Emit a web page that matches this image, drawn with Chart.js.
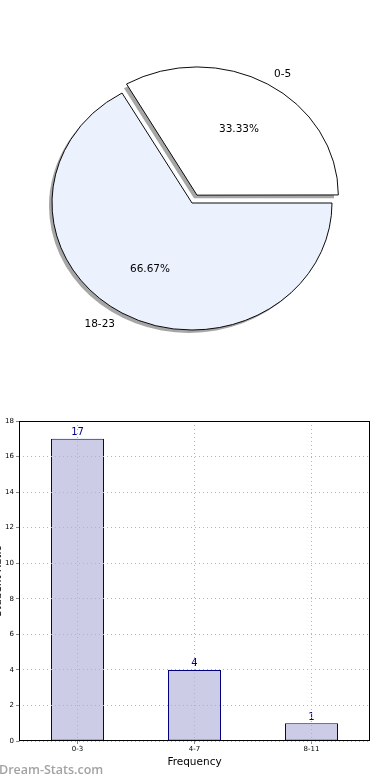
<!DOCTYPE html>
<html>
<head>
<meta charset="utf-8">
<script src="https://cdn.jsdelivr.net/npm/chart.js@4.4.1/dist/chart.umd.min.js"></script>
<style>
body { margin: 0; background: #fff; width: 390px; height: 780px; overflow: hidden; position: relative; }
canvas { position: absolute; left: 0; }
#pie { top: 0; }
#bars { top: 390px; }
#mark { position: absolute; left: -1px; top: 761px; font: 600 12.5px "Open Sans", sans-serif; color: #a3a3a3; }
</style>
</head>
<body>
<canvas id="pie" width="390" height="390"></canvas>
<canvas id="bars" width="390" height="390"></canvas>
<div id="mark">Dream-Stats.com</div>
<script>
// pie: age groups (counts -> percentages)
const pieLabels = ["18-23", "0-5"];
const pieValues = [2, 1];
const pieColors = ["#ebf1fd", "#ffffff"];
const pieExplode = [0, 40];

// bars: frequency histogram
const barLabels = ["0-3", "4-7", "8-11"];
const barValues = [17, 4, 1];
const yMax = 18;
const yStep = 2;
const yTitle = "Student Ratio";
const xTitle = "Frequency";

const FONT = '"DejaVu Sans", sans-serif';
const SY = 127 / 140; // squash the pie into an ellipse like the original

// pie is drawn squashed, with a gray drop shadow and matplotlib-style labels
const ellipsePie = {
    id: 'ellipsePie',
    beforeDatasetsDraw(chart) {
        const ctx = chart.ctx;
        const arcs = chart.getDatasetMeta(0).data;
        const cy = arcs[0].y;
        ctx.save();
        ctx.translate(0, cy);
        ctx.scale(1, SY);
        ctx.translate(0, -cy);
        ctx.fillStyle = 'rgba(77,77,77,0.5)';
        arcs.forEach(a => {
            const mid = (a.startAngle + a.endAngle) / 2;
            const off = (a.options.offset || 0) / 4;
            const x = a.x + Math.cos(mid) * off - 3;
            const y = a.y + Math.sin(mid) * off + 3 / SY;
            ctx.beginPath();
            ctx.moveTo(x, y);
            ctx.arc(x, y, a.outerRadius, a.startAngle, a.endAngle);
            ctx.closePath();
            ctx.fill();
        });
    },
    afterDatasetsDraw(chart) {
        const ctx = chart.ctx;
        ctx.restore();
        const arcs = chart.getDatasetMeta(0).data;
        const total = pieValues.reduce((s, v) => s + v, 0);
        ctx.save();
        ctx.font = '10.5px ' + FONT;
        ctx.fillStyle = '#000';
        ctx.textBaseline = 'middle';
        arcs.forEach((a, i) => {
            const mid = (a.startAngle + a.endAngle) / 2;
            const off = (a.options.offset || 0) / 4;
            const cx = a.x + Math.cos(mid) * off;
            const cy = a.y + Math.sin(mid) * off * SY;
            const r = a.outerRadius;
            ctx.textAlign = Math.cos(mid) > 0 ? 'left' : 'right';
            ctx.fillText(pieLabels[i], cx + 1.1 * r * Math.cos(mid), cy + 1.1 * r * Math.sin(mid) * SY);
            ctx.textAlign = 'center';
            const pct = (pieValues[i] / total * 100).toFixed(2) + '%';
            ctx.fillText(pct, cx + 0.6 * r * Math.cos(mid), cy + 0.6 * r * Math.sin(mid) * SY);
        });
        ctx.restore();
    }
};

new Chart(document.getElementById('pie'), {
    type: 'pie',
    data: {
        labels: pieLabels,
        datasets: [{
            data: pieValues,
            backgroundColor: pieColors,
            borderColor: '#000',
            borderWidth: 1,
            offset: pieExplode
        }]
    },
    options: {
        responsive: false,
        animation: false,
        devicePixelRatio: 1,
        rotation: 90,
        radius: 140,
        layout: { padding: { left: 0, right: 6, top: 16, bottom: 0 } },
        plugins: { legend: { display: false }, tooltip: { enabled: false } }
    },
    plugins: [ellipsePie]
});

// box around the plot, value labels and the (clipped) y title
const barExtras = {
    id: 'barExtras',
    afterDatasetsDraw(chart) {
        const ctx = chart.ctx;
        const meta = chart.getDatasetMeta(0);
        ctx.save();
        ctx.font = '10px ' + FONT;
        ctx.fillStyle = '#00008b';
        ctx.textAlign = 'center';
        ctx.textBaseline = 'bottom';
        meta.data.forEach((bar, i) => {
            ctx.fillText(String(barValues[i]), bar.x, bar.y - 1);
        });
        ctx.restore();
    },
    afterDraw(chart) {
        const ctx = chart.ctx;
        const a = chart.chartArea;
        ctx.save();
        ctx.strokeStyle = '#000';
        ctx.lineWidth = 1;
        ctx.strokeRect(Math.round(a.left) + 0.5, Math.round(a.top) + 0.5,
            Math.round(a.right - a.left) - 1, Math.round(a.bottom - a.top) - 1);
        ctx.translate(-2, (a.top + a.bottom) / 2);
        ctx.rotate(-Math.PI / 2);
        ctx.font = '10.5px ' + FONT;
        ctx.fillStyle = '#000';
        ctx.textAlign = 'center';
        ctx.textBaseline = 'middle';
        ctx.fillText(yTitle, 0, 0);
        ctx.restore();
    }
};

new Chart(document.getElementById('bars'), {
    type: 'bar',
    data: {
        labels: barLabels,
        datasets: [{
            data: barValues,
            backgroundColor: '#cccce6',
            borderColor: '#000080',
            borderWidth: 1,
            borderSkipped: false,
            categoryPercentage: 1,
            barPercentage: 53 / 117
        }]
    },
    options: {
        responsive: false,
        animation: false,
        devicePixelRatio: 1,
        layout: { padding: { left: 0, right: 20, top: 31, bottom: 7 } },
        plugins: { legend: { display: false }, tooltip: { enabled: false } },
        scales: {
            x: {
                grid: { offset: false, color: '#b4b4b4', z: 1, tickLength: 3, tickColor: '#888' },
                border: { display: false, dash: [1, 3] },
                ticks: { color: '#000', font: { family: FONT, size: 7 }, padding: 1, maxRotation: 0 },
                title: { display: true, text: xTitle, color: '#000', font: { family: FONT, size: 10.5 }, padding: { top: 2, bottom: 4 } }
            },
            y: {
                min: 0,
                max: yMax,
                afterFit(scale) { scale.width = 19; },
                grid: { color: '#b4b4b4', z: 1, tickLength: 3, tickColor: '#888' },
                border: { display: false, dash: [1, 3] },
                ticks: { stepSize: yStep, color: '#000', font: { family: FONT, size: 7 }, padding: 2 }
            }
        }
    },
    plugins: [barExtras]
});
</script>
</body>
</html>
